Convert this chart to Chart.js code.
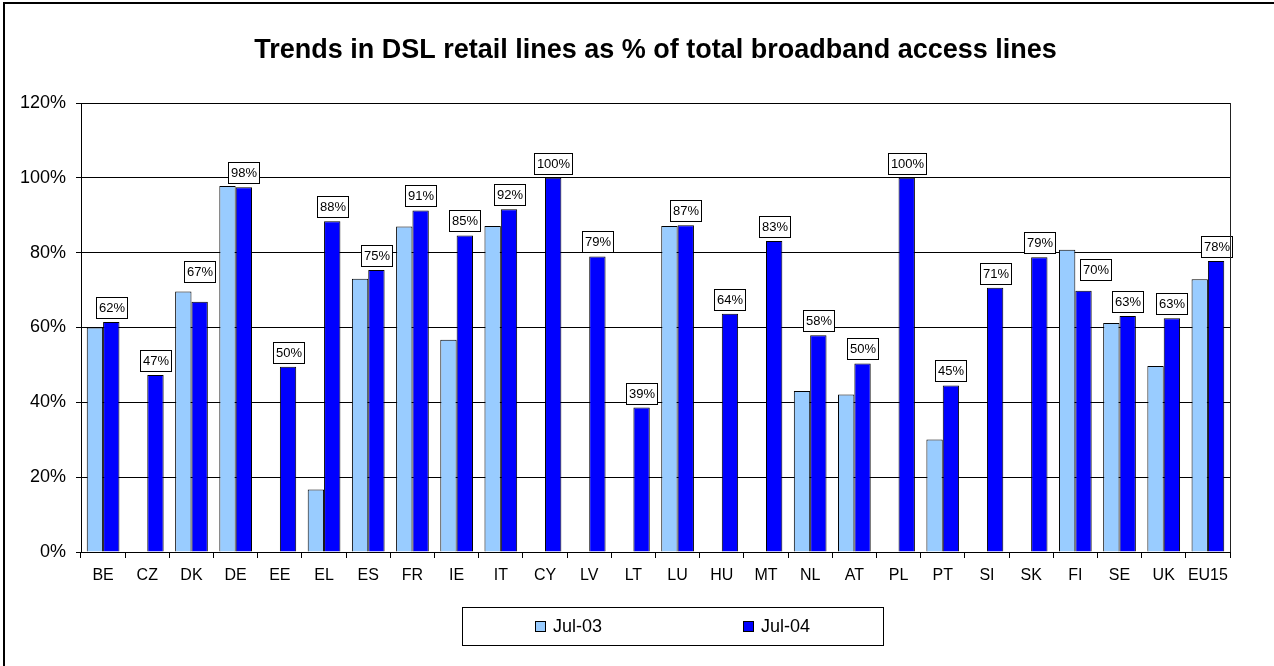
<!DOCTYPE html>
<html><head><meta charset="utf-8">
<script src="https://cdn.jsdelivr.net/npm/chart.js@4/dist/chart.umd.min.js"></script>
<style>html,body{margin:0;padding:0;background:#fff;} #wrap{position:relative;width:1274px;height:666px;}</style>
</head><body><div id="wrap"><canvas id="c" width="1274" height="666"></canvas></div>
<script>
const chartTitle = 'Trends in DSL retail lines as % of total broadband access lines';
const categories = ['BE','CZ','DK','DE','EE','EL','ES','FR','IE','IT','CY','LV','LT','LU','HU','MT','NL','AT','PL','PT','SI','SK','FI','SE','UK','EU15'];
const jul03 = [60.0,null,69.6,97.8,null,16.7,73.0,87.0,56.7,87.1,null,null,null,87.1,null,null,43.0,42.1,null,30.1,null,null,80.8,61.2,49.7,72.9];
const jul04 = [61.5,47.3,66.9,97.5,49.5,88.4,75.4,91.3,84.6,91.6,100,79.0,38.6,87.3,63.7,83.1,57.9,50.4,100,44.5,70.6,78.8,69.8,63.1,62.5,77.8];
const seriesNames = ['Jul-03','Jul-04'];
const yTicks = [0,20,40,60,80,100,120];

const FONT = '"Liberation Sans", Arial, sans-serif';

const framePlugin = {
  id: 'frame',
  afterDraw(chart) {
    const ctx = chart.ctx, a = chart.chartArea;
    ctx.save();
    // outer border (left & top visible)
    ctx.fillStyle = '#000';
    ctx.fillRect(3, 2, 2, 664);
    ctx.fillRect(3, 2, 1271, 2);
    // right border of plot
    ctx.strokeStyle = '#222';
    ctx.lineWidth = 1;
    ctx.beginPath();
    ctx.moveTo(Math.round(a.right) + 0.5, a.top);
    ctx.lineTo(Math.round(a.right) + 0.5, a.bottom);
    ctx.stroke();
    // title
    ctx.fillStyle = '#000';
    ctx.font = 'bold 27px ' + FONT;
    ctx.textAlign = 'center';
    ctx.textBaseline = 'alphabetic';
    ctx.fillText(chartTitle, (a.left + a.right) / 2, 58);
    // legend
    const lx = 462.5, ly = 607.5, lw = 421, lh = 38;
    ctx.strokeStyle = '#000';
    ctx.strokeRect(lx, ly, lw, lh);
    const itemX = [535, 743];
    ctx.font = '18px ' + FONT;
    ctx.textAlign = 'left';
    ctx.textBaseline = 'middle';
    chart.data.datasets.forEach((ds, i) => {
      ctx.fillStyle = ds.backgroundColor;
      ctx.fillRect(itemX[i] + 0.5, 621.5, 10, 10);
      ctx.strokeStyle = '#000';
      ctx.strokeRect(itemX[i] + 0.5, 621.5, 10, 10);
      ctx.fillStyle = '#000';
      ctx.fillText(ds.label, itemX[i] + 18, 627);
    });
    ctx.restore();
  },
  afterDatasetsDraw(chart) {
    const ctx = chart.ctx;
    const meta = chart.getDatasetMeta(1);
    const y = chart.scales.y;
    ctx.save();
    ctx.font = '13px ' + FONT;
    ctx.textAlign = 'center';
    ctx.textBaseline = 'middle';
    meta.data.forEach((bar, i) => {
      const v = jul04[i];
      if (v == null) return;
      const txt = Math.round(v) + '%';
      const tw = ctx.measureText(txt).width;
      const bw = Math.round(tw + 5), bh = 21;
      let cx = bar.x;
      let bottom = bar.y - 4;
      const v3 = jul03[i];
      if (v3 != null) {
        const yl = y.getPixelForValue(v3);
        if (yl < bar.y - 3) {
          if (bar.y - yl < 15) {
            bottom = yl - 10;
          } else {
            cx = bar.x - bar.width / 2 + 5 + bw / 2;
            bottom = bar.y - 11;
          }
        }
      }
      const left = Math.round(cx - bw / 2) + 0.5;
      const top = Math.round(bottom - bh) + 0.5;
      ctx.fillStyle = '#fff';
      ctx.fillRect(left, top, bw, bh);
      ctx.strokeStyle = '#000';
      ctx.lineWidth = 1;
      ctx.strokeRect(left, top, bw, bh);
      ctx.fillStyle = '#000';
      ctx.fillText(txt, left + bw / 2, top + bh / 2 + 0.5);
    });
    ctx.restore();
  }
};

new Chart(document.getElementById('c'), {
  type: 'bar',
  data: {
    labels: categories,
    datasets: [
      { label: seriesNames[0], data: jul03, backgroundColor: '#99CCFF', borderColor: '#000', borderWidth: 1 },
      { label: seriesNames[1], data: jul04, backgroundColor: '#0000FF', borderColor: '#000', borderWidth: 1 }
    ]
  },
  options: {
    responsive: false,
    animation: false,
    events: [],
    layout: { padding: { top: 103, left: 0, right: 44, bottom: 0 } },
    datasets: { bar: { categoryPercentage: 0.74, barPercentage: 1 } },
    plugins: { legend: { display: false }, title: { display: false }, tooltip: { enabled: false } },
    scales: {
      x: {
        afterFit(s) { s.height = 114; },
        grid: { drawOnChartArea: false, drawTicks: true, tickLength: 6, color: '#000', offset: true },
        border: { color: '#000', width: 1 },
        ticks: { color: '#000', font: { family: FONT, size: 16 }, padding: 8, maxRotation: 0, autoSkip: false }
      },
      y: {
        min: 0, max: 120,
        afterFit(s) { s.width = 81; },
        afterBuildTicks(s) { s.ticks = yTicks.map(v => ({ value: v })); },
        grid: { color: '#000', lineWidth: 1, tickLength: 5 },
        border: { color: '#000', width: 1 },
        ticks: { color: '#000', font: { family: FONT, size: 18 }, padding: 10, callback: v => v + '%' }
      }
    }
  },
  plugins: [framePlugin]
});
</script>
</body></html>
